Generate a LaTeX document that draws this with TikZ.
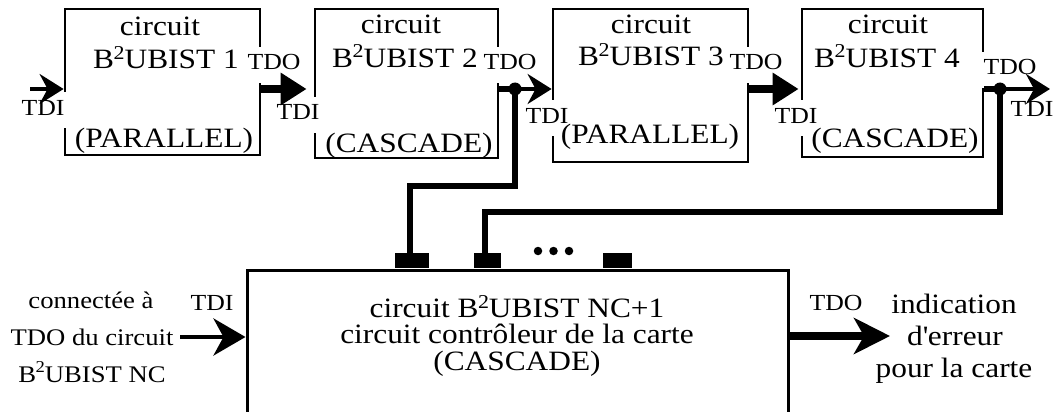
\documentclass[tikz,border=0pt]{standalone}
\usepackage{fontspec}
\setmainfont{Liberation Serif}[FakeStretch=1.12]
\usetikzlibrary{arrows.meta}
\newcommand{\Bsq}{B\kern-0.5pt\textsuperscript{2}\kern-0.5pt}
\begin{document}
\begin{tikzpicture}[x=1pt,y=-1pt,
  box/.style={draw,line width=2.8pt,inner sep=0pt},
  big/.style={font=\fontsize{28}{26}\selectfont,anchor=base,inner sep=0pt,text height=19pt,text depth=4.5pt},
  multi/.style={font=\fontsize{28}{26}\selectfont,anchor=base,inner sep=0pt,align=center},
  lab/.style={font=\fontsize{23}{23}\selectfont,anchor=base,fill=white,inner xsep=4pt,inner ysep=0pt,text height=23pt,text depth=13pt},
  side/.style={font=\fontsize{23.8}{24}\selectfont,anchor=base,inner sep=0pt},
  thinarrow/.style={line width=3.5pt,-{Stealth[length=24pt,width=30pt,inset=8pt]}},
  thickarrow/.style={line width=8pt,-{Triangle[length=26pt,width=31pt]}},
  stub/.style={line width=6pt},
  bus/.style={line width=5.5pt},
  pin/.style={fill=black,inner sep=0pt,minimum height=15pt},
  junction/.style={circle,fill=black,inner sep=0pt,minimum size=13pt},
  dotc/.style={circle,fill=black,inner sep=0pt,minimum size=8.5pt},
  inarrow/.style={line width=4.5pt,-{Stealth[length=32pt,width=37pt,inset=10pt]}},
  outarrow/.style={line width=8pt,-{Stealth[length=36pt,width=36pt,inset=10pt]}},
]
\useasboundingbox (0,0) rectangle (1061,412);
\clip (0,0) rectangle (1061,412);

% boxes
\node[box,minimum width=195pt,minimum height=146pt] (b1) at (162.5,82) {};
\node[box,minimum width=183pt,minimum height=149pt] (b2) at (406.5,83.5) {};
\node[box,minimum width=195pt,minimum height=153pt] (b3) at (650.5,85.5) {};
\node[box,minimum width=181pt,minimum height=148pt] (b4) at (892.5,83) {};
\node[box,line width=3pt,minimum width=541pt,minimum height=170pt] (m) at (517.5,355) {};

% small labels (opaque)
\node[lab] (tdi1) at (43,115) {TDI};
\node[lab] (tdo1) at (274,70) {TDO};
\node[lab] (tdi2) at (298,120) {TDI};
\node[lab] (tdo2) at (510,70) {TDO};
\node[lab] (tdi3) at (547,123) {TDI};
\node[lab] (tdo3) at (756,70) {TDO};
\node[lab] (tdi4) at (796,123) {TDI};
\node[lab] (tdo4) at (1010,75) {TDO};
\node[lab] (tdi5) at (1032,117) {TDI};
\node[lab] (tdim) at (212,310) {TDI};
\node[lab] (tdom) at (836,310) {TDO};

% box texts
\node[big] (t1a) at (160,36) {circuit};
\node[big] (t1b) at (166,69) {\Bsq UBIST 1};
\node[big] (t1c) at (164,147) {(PARALLEL)};
\node[big] (t2a) at (401,34) {circuit};
\node[big] (t2b) at (405,67) {\Bsq UBIST 2};
\node[big] (t2c) at (409,152) {(CASCADE)};
\node[big] (t3a) at (651,34) {circuit};
\node[big] (t3b) at (651,66) {\Bsq UBIST 3};
\node[big] (t3c) at (650,143) {(PARALLEL)};
\node[big] (t4a) at (888,34) {circuit};
\node[big] (t4b) at (887,67) {\Bsq UBIST 4};
\node[big] (t4c) at (895,147) {(CASCADE)};
\node[multi] (mt) at (517,370) {circuit \Bsq UBIST NC+1\\[-0.5pt]circuit contrôleur de la carte\\[1pt](CASCADE)};

% side texts
\node[side] (la) at (91,308) {connectée à};
\node[side] (lb) at (92,345) {TDO du circuit};
\node[side] (lc) at (92,382) {\Bsq UBIST NC};
\node[big] (ra) at (954,313) {indication};
\node[big] (rb) at (955,345) {d\textquotesingle erreur};
\node[big] (rc) at (954,377) {pour la carte};

% top row connectors
\coordinate (row) at (0,89);
\coordinate (in1) at (30,89);
\coordinate (out4) at (1050,89);
\node[junction] (d2) at (515,89) {};
\node[junction] (d4) at (1000,89) {};
\draw[thinarrow] (in1) -- (in1 -| b1.west);
\draw[thickarrow] (b1.east |- row) -- ([xshift=-7pt]b2.west |- row);
\draw[stub] (b2.east |- row) -- (d2.center);
\draw[thinarrow] (d2.center) -- (b3.west |- row);
\draw[thickarrow] (b3.east |- row) -- ([xshift=-2pt]b4.west |- row);
\draw[stub] (b4.east |- row) -- (d4.center);
\draw[thinarrow] (d4.center) -- (out4);

% pins on controller
\node[pin,minimum width=34pt] (p1) at (412,260.5) {};
\node[pin,minimum width=27pt] (p2) at (487.5,260.5) {};
\node[pin,minimum width=29pt] (p3) at (617.5,260.5) {};
\node[dotc] (e1) at (538,251) {};
\node[dotc] (e2) at (553.5,251) {};
\node[dotc] (e3) at (569,251) {};

% buses
\draw[bus] (d2.center) -- (d2.center |- 0,186) -| ([xshift=-2pt]p1.center);
\draw[bus] (d4.center) -- (d4.center |- 0,212) -| ([xshift=-2.5pt]p2.center);

% controller connectors
\coordinate (inm) at (180,337);
\coordinate (outm) at (890,336);
\draw[inarrow] (inm) -- (inm -| m.west);
\draw[outarrow] (m.east |- outm) -- (outm);
\end{tikzpicture}
\end{document}
